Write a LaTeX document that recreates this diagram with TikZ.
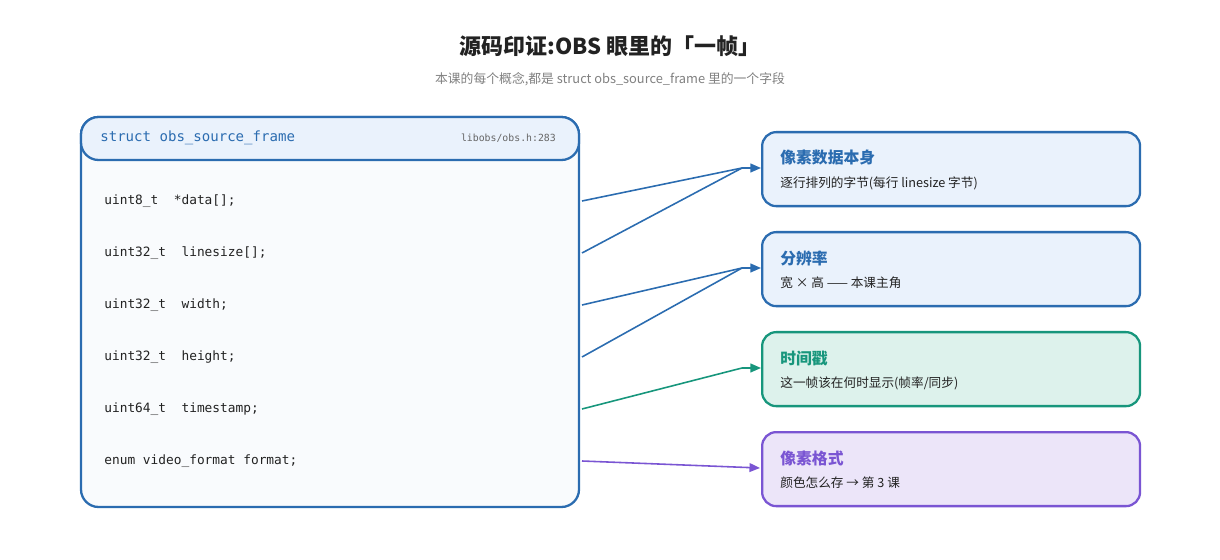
\documentclass[tikz,border=0pt]{standalone}
\usepackage{fontspec}
\setmainfont{Noto Sans CJK SC}
\setmonofont{DejaVu Sans Mono}
\usetikzlibrary{positioning,arrows.meta}
\definecolor{bblue}{HTML}{2B6CB0}
\definecolor{bbluef}{HTML}{EAF2FC}
\definecolor{tteal}{HTML}{17967C}
\definecolor{ttealf}{HTML}{DDF2EC}
\definecolor{ppur}{HTML}{7A55D3}
\definecolor{ppurf}{HTML}{ECE5F9}
\definecolor{ink}{HTML}{222222}
\tikzset{
  box/.style={draw=#1, line width=1.3pt, rounded corners=8pt, minimum width=7.56cm, minimum height=1.48cm, anchor=north west},
  code/.style={anchor=west, font=\ttfamily\fontsize{7.3}{9}\selectfont, text=ink, inner sep=0pt},
  btitle/.style={anchor=west, font=\bfseries\fontsize{9}{11}\selectfont, inner sep=0pt},
  bsub/.style={anchor=west, font=\fontsize{7.2}{9}\selectfont, text=ink, inner sep=0pt},
  link/.style={draw=#1, line width=0.9pt},
  tip/.style={draw=#1, line width=0.9pt, -{Triangle[length=6pt,width=5pt]}}
}
\begin{document}
\begin{tikzpicture}[x=0.02cm,y=-0.02cm]
\useasboundingbox (0,0) rectangle (1220,560);
% titles
\node[font=\bfseries\fontsize{12.5}{15}\selectfont, text=ink] (title) at (610,46) {源码印证:OBS 眼里的「一帧」};
\node[font=\fontsize{7.3}{9}\selectfont, text=gray] (subtitle) at (610,79) {本课的每个概念,都是 struct obs\_source\_frame 里的一个字段};
% struct
\draw[bblue, line width=1.3pt, fill=black!2!bbluef!25, rounded corners=10pt] (81,117) rectangle (579,507);
\draw[bblue, line width=1.3pt, fill=bbluef, rounded corners=10pt] (81,117) rectangle (579,160);
\node[code, text=bblue, font=\ttfamily\fontsize{8}{10}\selectfont] (sname) at (100,138) {struct obs\_source\_frame};
\node[anchor=east, font=\ttfamily\fontsize{5.6}{7}\selectfont, text=gray!80!black] (sfile) at (562,138) {libobs/obs.h:283};
\node[code] (data) at (104,201) {uint8\_t~~*data[];};
\node[code] (lsize) at (104,253) {uint32\_t~~linesize[];};
\node[code] (width) at (104,305) {uint32\_t~~width;};
\node[code] (height) at (104,357) {uint32\_t~~height;};
\node[code] (tstamp) at (104,409) {uint64\_t~~timestamp;};
\node[code] (format) at (104,461) {enum video\_format format;};
% right boxes
\node[box=bblue, fill=bbluef] (pix) at (761,131) {};
\node[btitle, text=bblue] at (780,158) {像素数据本身};
\node[bsub] at (780,183) {逐行排列的字节(每行 linesize 字节)};
\node[box=bblue, fill=bbluef] (res) at (761,231) {};
\node[btitle, text=bblue] at (780,258) {分辨率};
\node[bsub] at (780,283) {宽 × 高 —— 本课主角};
\node[box=tteal, fill=ttealf] (time) at (761,331) {};
\node[btitle, text=tteal] at (780,358) {时间戳};
\node[bsub] at (780,383) {这一帧该在何时显示(帧率/同步)};
\node[box=ppur, fill=ppurf] (fmt) at (761,431) {};
\node[btitle, text=ppur] at (780,458) {像素格式};
\node[bsub] at (780,483) {颜色怎么存 → 第 3 课};
% connectors
\coordinate (jpix) at (742,168);
\coordinate (jres) at (742,268);
\coordinate (jtime) at (742,368);
\draw[link=bblue] (data.east -| 582,0) -- (jpix);
\draw[link=bblue] (lsize.east -| 582,0) -- (jpix);
\draw[tip=bblue] (jpix) -- (jpix -| pix.west);
\draw[link=bblue] (width.east -| 582,0) -- (jres);
\draw[link=bblue] (height.east -| 582,0) -- (jres);
\draw[tip=bblue] (jres) -- (jres -| res.west);
\draw[link=tteal] (tstamp.east -| 582,0) -- (jtime);
\draw[tip=tteal] (jtime) -- (jtime -| time.west);
\draw[tip=ppur] (format.east -| 582,0) -- (760,468);
\end{tikzpicture}
\end{document}
